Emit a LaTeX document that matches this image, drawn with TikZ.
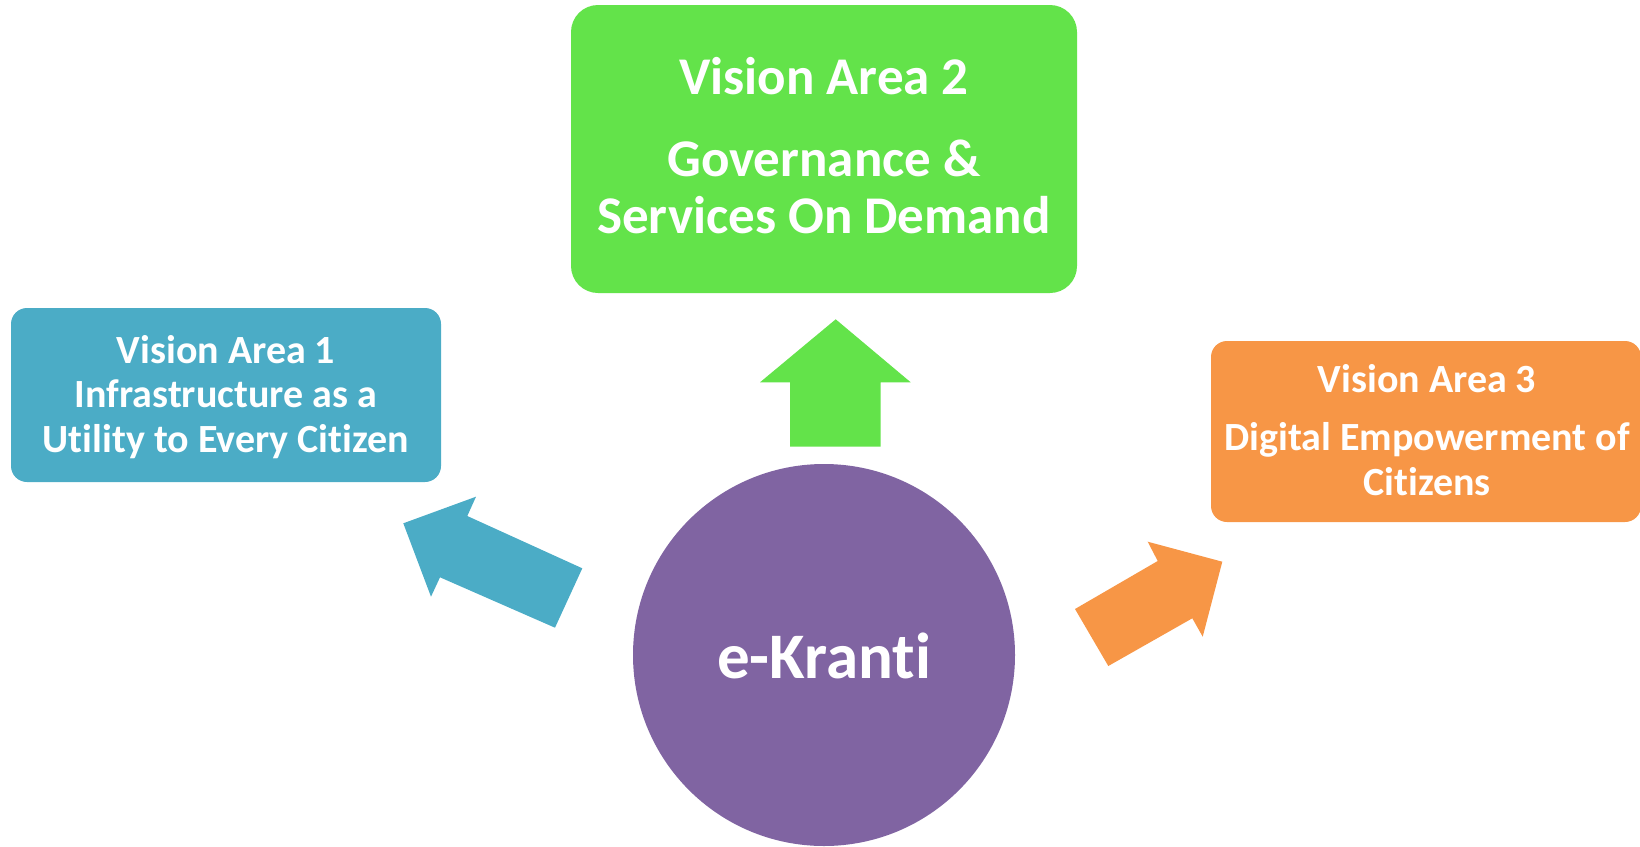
\documentclass[tikz,border=0pt]{standalone}
\usepackage{fontspec}
\setmainfont{Carlito}[RawFeature={-liga;-clig}]
\definecolor{vgreen}{RGB}{99,227,74}
\definecolor{vblue}{RGB}{75,172,198}
\definecolor{vorange}{RGB}{247,150,70}
\definecolor{vpurple}{RGB}{128,100,162}
\begin{document}
\begin{tikzpicture}[x=1pt,y=-1pt,
  box/.style={inner sep=0pt, draw=none},
  lbl/.style={anchor=base, text=white, font=\bfseries\fontsize{40}{44}\selectfont, inner sep=0pt},
  biglbl/.style={lbl, font=\bfseries\fontsize{53}{57}\selectfont}]
\useasboundingbox (0,0) rectangle (1640,846);
% boxes
\node[box, fill=vgreen, rounded corners=27pt, minimum width=506pt, minimum height=288pt] (va2) at (824,149) {};
\node[box, fill=vblue, rounded corners=16pt, minimum width=430pt, minimum height=174pt] (va1) at (226,395) {};
\node[box, fill=vorange, rounded corners=16pt, minimum width=430pt, minimum height=181pt] (va3) at (1426,431.5) {};
\node[box, fill=vpurple, circle, minimum size=382pt] (ek) at (824,655) {};
% labels
\node[biglbl] (t2a) at (824,94) {Vision Area 2};
\node[biglbl] (t2b) at (824,176) {Governance \&};
\node[biglbl] (t2c) at (824,233) {Services On Demand};
\node[lbl] (t1a) at (226,363) {Vision Area 1};
\node[lbl] (t1b) at (226,407) {Infrastructure as a};
\node[lbl] (t1c) at (226,452) {Utility to Every Citizen};
\node[lbl] (t3a) at (1427,392) {Vision Area 3};
\node[lbl] (t3b) at (1427,450) {Digital Empowerment of};
\node[lbl] (t3c) at (1427,495) {Citizens};
\node[lbl, font=\bfseries\fontsize{65}{70}\selectfont] (tek) at (824,678) {e-Kranti};
% block arrows
\fill[vgreen] (835.7,319.3) -- (910.7,382.3) -- (880.7,382.3) -- (880.7,446.7)
  -- (790,446.7) -- (790,382.3) -- (760,382.3) -- cycle;
\fill[vblue] (403.3,523.3) -- (476,496.7) -- (467.3,516) -- (582.3,568.3)
  -- (555,627.7) -- (440,577.3) -- (431,596.7) -- cycle;
\fill[vorange] (1222.3,561.7) -- (1202.7,636.7) -- (1192.3,618.3) -- (1108.3,666)
  -- (1075,609) -- (1157.7,561) -- (1147.7,541.7) -- cycle;
\end{tikzpicture}
\end{document}
